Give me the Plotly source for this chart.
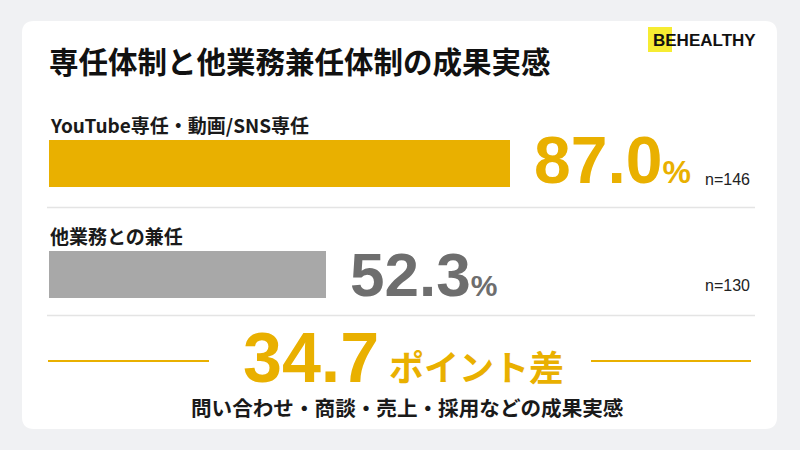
import plotly.graph_objects as go

# ---- data ----
categories = ["YouTube専任・動画/SNS専任", "他業務との兼任"]
values = [87.0, 52.3]
sample_sizes = [146, 130]
title_text = "専任体制と他業務兼任体制の成果実感"
brand_hi = "BE"
brand_rest = "HEALTHY"
gap_suffix = "ポイント差"
footnote = "問い合わせ・商談・売上・採用などの成果実感"

# ---- style ----
YELLOW = "#E9B000"
GRAY_BAR = "#A8A8A8"
GRAY_TXT = "#6E6E6E"
bar_colors = [YELLOW, GRAY_BAR]
value_colors = [YELLOW, GRAY_TXT]
value_sizes = [66, 62]
pct_sizes = [32, 30]
value_yshift = [3, 0]
n_yshift = [-16, -11]
JP = "Noto Sans CJK JP, Noto Sans, sans-serif"
NUM = "Liberation Sans, Arial, sans-serif"
LATIN = "Liberation Sans, Arial, sans-serif"

W, H = 800, 450


def px(x):
    return x / W


def py(y):
    return 1 - y / H


fig = go.Figure()
fig.add_trace(go.Bar(
    x=values, y=categories, orientation="h",
    marker=dict(color=bar_colors, line=dict(width=0)),
    width=0.43, hoverinfo="skip", showlegend=False,
))

scale = 5.3  # px per unit
x_left, x_right = 49, 755
fig.update_layout(
    width=W, height=H,
    margin=dict(l=0, r=0, t=0, b=0),
    paper_bgcolor="#F0F1F3", plot_bgcolor="rgba(0,0,0,0)",
    xaxis=dict(domain=[px(x_left), px(x_right)], range=[0, (x_right - x_left) / scale],
               visible=False, fixedrange=True),
    yaxis=dict(domain=[py(329.5), py(107.5)], type="category",
               categoryorder="array", categoryarray=categories,
               range=[1.5, -0.5], visible=False, fixedrange=True),
    bargap=0,
)

# card with rounded corners
cx0, cy0, cx1, cy1, r = 22, 21, 777, 429, 12
path = (f"M {px(cx0 + r)} {py(cy0)} L {px(cx1 - r)} {py(cy0)} "
        f"Q {px(cx1)} {py(cy0)} {px(cx1)} {py(cy0 + r)} "
        f"L {px(cx1)} {py(cy1 - r)} Q {px(cx1)} {py(cy1)} {px(cx1 - r)} {py(cy1)} "
        f"L {px(cx0 + r)} {py(cy1)} Q {px(cx0)} {py(cy1)} {px(cx0)} {py(cy1 - r)} "
        f"L {px(cx0)} {py(cy0 + r)} Q {px(cx0)} {py(cy0)} {px(cx0 + r)} {py(cy0)} Z")
fig.add_shape(type="path", path=path, xref="paper", yref="paper",
              fillcolor="white", line=dict(width=0), layer="below")

# brand highlight
fig.add_shape(type="rect", xref="paper", yref="paper",
              x0=px(648), x1=px(672), y0=py(52), y1=py(27),
              fillcolor="#F6EC32", line=dict(width=0), layer="below")

# dividers
for yy in (207.5, 315.5):
    fig.add_shape(type="line", xref="paper", yref="paper",
                  x0=px(47), x1=px(755), y0=py(yy), y1=py(yy),
                  line=dict(color="#E4E4E4", width=1.5))

# yellow rules around gap text
for a, b in ((48, 209), (591, 751)):
    fig.add_shape(type="line", xref="paper", yref="paper",
                  x0=px(a), x1=px(b), y0=py(361), y1=py(361),
                  line=dict(color=YELLOW, width=2))

ann = []
# title
ann.append(dict(text=title_text, x=px(47), y=py(60), xref="paper", yref="paper",
                xanchor="left", yanchor="middle", showarrow=False,
                font=dict(family=JP, size=29.5, color="#111111", weight="bold")))
# brand
ann.append(dict(text=brand_hi + brand_rest, x=px(758), y=py(40), xref="paper", yref="paper",
                xanchor="right", yanchor="middle", showarrow=False,
                font=dict(family=LATIN, size=17, color="#111111", weight="bold")))

for i, (cat, v, n) in enumerate(zip(categories, values, sample_sizes)):
    # category label above bar
    ann.append(dict(text=cat, x=0, y=cat, xref="x", yref="y",
                    xanchor="left", yanchor="middle", yshift=39, xshift=-1, showarrow=False,
                    font=dict(family=JP, size=19, color="#1A1A1A", weight="bold")))
    # big value
    ann.append(dict(text=f"{v:.1f}<span style='font-size:{pct_sizes[i]}px'>%</span>",
                    x=v, y=cat, xref="x", yref="y",
                    xanchor="left", yanchor="middle", xshift=22, yshift=value_yshift[i],
                    showarrow=False,
                    font=dict(family=NUM, size=value_sizes[i], color=value_colors[i],
                              weight="bold")))
    # sample size
    ann.append(dict(text=f"n={n}", x=px(752), y=cat, xref="paper", yref="y",
                    xanchor="right", yanchor="middle", yshift=n_yshift[i], showarrow=False,
                    font=dict(family=LATIN, size=16, color="#222222")))

gap = values[0] - values[1]
ann.append(dict(text=f"{gap:.1f}", x=px(381), y=py(357.5), xref="paper", yref="paper",
                xanchor="right", yanchor="middle", showarrow=False,
                font=dict(family=LATIN, size=70, color=YELLOW, weight="bold")))
ann.append(dict(text=gap_suffix, x=px(387), y=py(365), xref="paper", yref="paper",
                xanchor="left", yanchor="middle", showarrow=False,
                font=dict(family=JP, size=35, color=YELLOW, weight="bold")))
ann.append(dict(text=footnote, x=px(407), y=py(407), xref="paper", yref="paper",
                xanchor="center", yanchor="middle", showarrow=False,
                font=dict(family=JP, size=20.6, color="#1A1A1A", weight="bold")))

fig.update_layout(annotations=ann)
fig.write_html(
    "out.html",
    config={"displayModeBar": False},
    post_script="document.body.style.margin='0';document.body.style.background='#F0F1F3';",
)
